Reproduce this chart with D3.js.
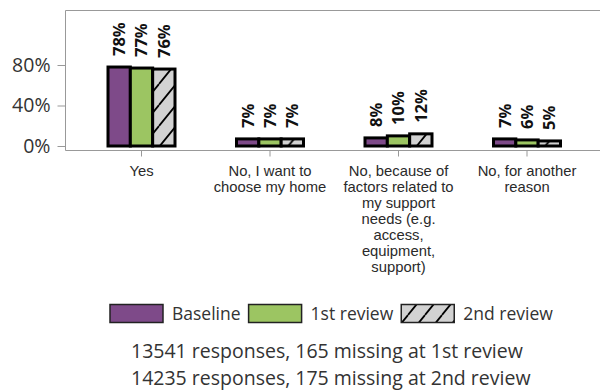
<!DOCTYPE html>
<html>
<head>
<meta charset="utf-8">
<script src="https://cdn.jsdelivr.net/npm/d3@7/dist/d3.min.js"></script>
<style>
  html, body { margin: 0; padding: 0; background: #fff; }
  svg { display: block; }
</style>
</head>
<body>
<svg id="chart" width="600" height="390"></svg>
<script>
// ---- Data ----
const categories = ["Yes", "No, I want to choose my home", "No, because of factors related to my support needs (e.g. access, equipment, support)", "No, for another reason"];
const categoryLines = [
  ["Yes"],
  ["No, I want to", "choose my home"],
  ["No, because of", "factors related to", "my support", "needs (e.g.", "access,", "equipment,", "support)"],
  ["No, for another", "reason"]
];
const seriesNames = ["Baseline", "1st review", "2nd review"];
const baseline = [0.78, 0.07, 0.08, 0.07];
const review1 = [0.77, 0.07, 0.10, 0.06];
const review2 = [0.76, 0.07, 0.12, 0.05];
const yTicks = [0, 0.4, 0.8];
const footnotes = ["13541 responses, 165 missing at 1st review", "14235 responses, 175 missing at 2nd review"];

const seriesValues = [baseline, review1, review2];
const colors = ["#7e4a89", "#9cc562", "url(#hatch)"];

const svg = d3.select("#chart");

// hatch pattern
const defs = svg.append("defs");
const pat = defs.append("pattern")
  .attr("id", "hatch")
  .attr("patternUnits", "userSpaceOnUse")
  .attr("width", 17).attr("height", 21);
pat.append("rect").attr("width", 17).attr("height", 21).attr("fill", "#d2d2d2");
pat.append("path")
  .attr("d", "M0,21 L17,0 M-17,21 L0,0 M17,21 L34,0")
  .attr("stroke", "#000").attr("stroke-width", 1.8);

// scales
const x = d3.scaleBand().domain(categories).range([77.25, 591.25]).padding(0);
const groupW = 67;
const xs = d3.scaleBand().domain(seriesNames).range([0, groupW]).padding(0);
const y = d3.scaleLinear().domain([0, 0.8]).range([146, 65]);

const frameLeft = 65.5, frameTop = 10.5, frameBottom = 150.5;

// frame
const frameColor = "#999";
svg.append("line").attr("x1", frameLeft).attr("x2", 600).attr("y1", frameTop).attr("y2", frameTop).attr("stroke", frameColor);
svg.append("line").attr("x1", frameLeft).attr("x2", frameLeft).attr("y1", frameTop).attr("y2", frameBottom).attr("stroke", frameColor);
svg.append("line").attr("x1", frameLeft).attr("x2", 600).attr("y1", frameBottom).attr("y2", frameBottom).attr("stroke", frameColor);

// y axis
const yAxis = d3.axisLeft(y).tickValues(yTicks).tickFormat(d3.format(".0%")).tickSize(8).tickPadding(7);
const yg = svg.append("g").attr("transform", `translate(${frameLeft},0)`).call(yAxis);
yg.select(".domain").remove();
yg.selectAll(".tick line").attr("stroke", frameColor);
yg.selectAll(".tick text")
  .attr("font-family", "'Open Sans', sans-serif")
  .attr("font-size", 19.5)
  .attr("fill", "#333");

// x axis
const xAxis = d3.axisBottom(x).tickSize(6).tickFormat("");
const xg = svg.append("g").attr("transform", `translate(0,${frameBottom})`).call(xAxis);
xg.select(".domain").remove();
xg.selectAll(".tick line").attr("stroke", frameColor);

// category labels
categories.forEach((c, i) => {
  const t = svg.append("text")
    .attr("x", x(c) + x.bandwidth() / 2)
    .attr("y", 176)
    .attr("text-anchor", "middle")
    .attr("font-family", "'Liberation Sans', Arial, sans-serif")
    .attr("font-size", 14.8)
    .attr("fill", "#2a2a2a");
  categoryLines[i].forEach((ln, j) => {
    t.append("tspan").attr("x", x(c) + x.bandwidth() / 2).attr("dy", j === 0 ? 0 : 16).text(ln);
  });
});

// bars
const groups = svg.selectAll("g.grp").data(categories).join("g")
  .attr("class", "grp")
  .attr("transform", c => `translate(${x(c) + x.bandwidth() / 2 - groupW / 2},0)`);

seriesNames.forEach((s, si) => {
  groups.append("rect")
    .attr("x", xs(s))
    .attr("width", xs.bandwidth())
    .attr("y", (c, ci) => y(seriesValues[si][ci]))
    .attr("height", (c, ci) => y(0) - y(seriesValues[si][ci]))
    .attr("fill", colors[si])
    .attr("stroke", "#000")
    .attr("stroke-width", 3);
});
seriesNames.forEach((s, si) => {
  groups.append("text")
    .attr("transform", (c, ci) => `translate(${xs(s) + xs.bandwidth() / 2},${y(seriesValues[si][ci]) - 11}) rotate(-90)`)
    .attr("text-anchor", "start")
    .attr("dy", "0.36em")
    .attr("font-family", "'Open Sans', sans-serif")
    .attr("font-weight", "bold")
    .attr("font-size", 16.5)
    .attr("fill", "#111")
    .text((c, ci) => d3.format(".0%")(seriesValues[si][ci]));
});

// legend
const legend = svg.append("g");
let lx = 110;
seriesNames.forEach((s, si) => {
  legend.append("rect")
    .attr("x", lx).attr("y", 304.5).attr("width", 53).attr("height", 18)
    .attr("fill", colors[si]).attr("stroke", "#222").attr("stroke-width", 1.5);
  const t = legend.append("text")
    .attr("x", lx + 62).attr("y", 320)
    .attr("font-family", "'Open Sans', sans-serif")
    .attr("font-size", 17.5)
    .attr("fill", "#333")
    .text(s);
  lx = lx + 62 + t.node().getComputedTextLength() + 8;
});

// footnotes
footnotes.forEach((f, i) => {
  svg.append("text")
    .attr("x", 131).attr("y", 358 + i * 27)
    .attr("font-family", "'Open Sans', sans-serif")
    .attr("font-size", 19.5)
    .attr("fill", "#333")
    .text(f);
});
</script>
</body>
</html>
